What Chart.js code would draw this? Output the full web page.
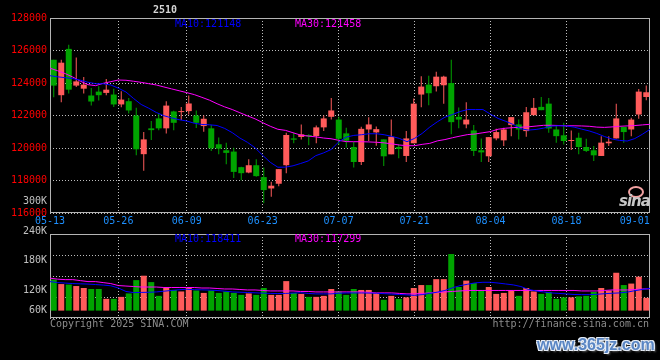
<!DOCTYPE html>
<html><head><meta charset="utf-8">
<script src="https://cdn.jsdelivr.net/npm/chart.js@4.4.1/dist/chart.umd.min.js"></script>
<style>
html,body{margin:0;padding:0;background:#000;width:660px;height:360px;overflow:hidden;}
#wrap{position:relative;width:660px;height:360px;background:#000;}
canvas{position:absolute;left:0;top:0;}
.t{position:absolute;font-family:'DejaVu Sans Mono',monospace;font-size:10px;line-height:12px;white-space:pre;}
</style></head><body>
<div id="wrap">
<canvas id="pc" width="660" height="360"></canvas>
<canvas id="vc" width="660" height="360"></canvas>
<div class="t" style="left:153px;top:4px;color:#d4d4d4;font-weight:bold;">2510</div>
<div class="t" id="pma10" style="left:175px;top:18px;color:#0000ff"></div>
<div class="t" id="pma30" style="left:295px;top:18px;color:#ff00ff"></div>
<div class="t" id="vma10" style="left:175px;top:233px;color:#0000ff"></div>
<div class="t" id="vma30" style="left:295px;top:233px;color:#ff00ff"></div>
<div class="t" style="left:50px;top:318px;color:#8c8c8c">Copyright 2025 SINA.COM</div>
<div class="t" style="right:11px;top:318px;color:#8c8c8c">http://finance.sina.com.cn</div>
<div style="position:absolute;left:628px;top:186px;width:12px;height:8px;border:2px solid #f2a2a2;border-radius:50%;"></div>
<div style="position:absolute;left:619px;top:194px;font:italic bold 15px 'DejaVu Sans',sans-serif;line-height:15px;color:#c8c8c8;letter-spacing:-1px">sina</div>
<div style="position:absolute;left:537px;top:337px;font:bold 16px 'Liberation Sans',sans-serif;line-height:16px;color:#5a86c4;text-shadow:-1px -1px 0 #e6edf7,1px -1px 0 #e6edf7,-1px 1px 0 #e6edf7,1px 1px 0 #e6edf7,2px 2px 2px #555;">www.365jz.com</div>
</div>
<script>
// ---------- DATA ----------
const DATES = ['05-13','05-14','05-15','05-16','05-19','05-20','05-21','05-22','05-23','05-26',
'05-27','05-28','05-29','05-30','06-03','06-04','06-05','06-06','06-09','06-10',
'06-11','06-12','06-13','06-16','06-17','06-18','06-19','06-20','06-23','06-24',
'06-25','06-26','06-27','06-30','07-01','07-02','07-03','07-04','07-07','07-08',
'07-09','07-10','07-11','07-14','07-15','07-16','07-17','07-18','07-21','07-22',
'07-23','07-24','07-25','07-28','07-29','07-30','07-31','08-01','08-04','08-05',
'08-06','08-07','08-08','08-11','08-12','08-13','08-14','08-15','08-18','08-19',
'08-20','08-21','08-22','08-25','08-26','08-27','08-28','08-29','09-01','09-02'];
const TICK_DATES = ['05-13','05-26','06-09','06-23','07-07','07-21','08-04','08-18','09-01'];

const OPEN = [125430,123250,126100,123840,123650,123230,123470,123390,123290,122680,
122880,122000,119620,121210,121820,121210,122250,122210,122270,122000,
121350,121210,120230,119860,119780,118820,118490,118940,118210,117510,
117800,118940,120590,120680,120800,120740,121270,121920,121750,120900,
120060,119140,121140,120960,120530,119610,120060,119510,120290,123290,
123900,123800,123860,124000,121920,121450,121080,119860,119490,120590,
120470,121410,121450,121040,122020,122530,122730,121140,120780,120430,
120630,120060,119860,119510,120290,120590,121290,121140,122060,123140];
const HIGH = [125430,125430,126350,125570,124370,123700,123800,124250,123650,123490,
123080,122470,120980,121660,122120,122880,122300,122530,123230,122310,
122000,121410,120640,120330,120020,118850,119310,119310,118800,117920,
118700,120940,120940,121450,120840,121390,122000,123080,121920,121250,
120370,121310,121900,121330,120530,121750,120220,121040,123040,124410,
124450,124690,124450,125430,122490,122820,121410,120590,120670,121180,
121240,121900,121750,122530,123080,123140,123080,121350,121550,121080,
120940,120570,120120,120730,120730,122730,121290,121860,123630,123840];
const LOW = [123120,122820,123350,123760,123350,122610,122920,123250,122530,122510,
122120,119550,118600,120490,121100,120900,121100,121720,122060,121230,
121000,119820,119620,119000,118150,118020,118450,118230,116600,117000,
117640,118450,120290,120530,120170,120290,121040,121760,120200,120020,
118800,118960,120430,120140,118900,119610,119370,119140,120290,122510,
122630,123470,122730,120840,121220,121220,119510,119140,119140,120470,
120120,120730,120530,120690,122020,122330,120940,120330,120220,119880,
119610,119750,119200,119510,120120,120590,120330,120730,121800,122940];
const CLOSE = [123840,125250,123590,124100,123900,122860,123250,123590,122680,122980,
122310,119920,120530,121100,121210,122610,121550,122270,122740,121550,
121800,119980,119960,119700,118530,118450,118940,118270,117410,117680,
118700,120800,120510,120840,120720,121270,121820,122310,120570,120450,
119140,121180,121450,121160,119490,120690,119940,120590,122730,123780,
123370,124390,124390,121590,121750,121750,119820,119730,120670,120980,
121140,121900,121140,122200,122470,122330,121200,120730,120430,120490,
120060,119820,119550,120330,120390,121820,120980,121750,123470,123430];

const MA10 = [124449,124381,124326,124271,124175,124046,123959,123952,123877,123681,
123448,123048,122681,122448,122187,121985,121852,121740,121660,121524,
121449,121428,121383,121204,120944,120612,120350,120013,119550,119121,
118817,118822,118905,119048,119203,119530,119695,119903,120367,120673,
120775,120816,120877,120877,120816,120714,120591,120387,120591,120897,
121285,121612,121897,122061,122244,122367,122367,122367,122080,121820,
121642,121448,121183,121101,121142,121224,121346,121367,121357,121285,
121163,121050,120897,120705,120550,120469,120428,120580,120846,121148];
const MA30 = [124910,124755,124579,124367,124111,123899,123836,123979,124081,124183,
124169,124108,124040,123959,123877,123755,123638,123524,123408,123285,
123118,122944,122724,122530,122367,122171,121979,121795,121560,121338,
121152,121085,120938,120795,120734,120685,120615,120570,120475,120393,
120387,120387,120373,120352,120315,120254,120183,120142,120142,120224,
120285,120438,120520,120632,120734,120826,120863,120938,121010,121155,
121218,121255,121277,121305,121350,121397,121397,121383,121367,121367,
121357,121336,121285,121269,121297,121336,121359,121381,121422,121458];

const VOLUME = [136000,127000,126000,123000,119000,117000,117000,97000,97000,101000,
108000,135000,144000,131000,103000,119000,115000,112000,119000,114000,
109000,114000,109000,112000,109000,105000,108000,105000,119000,105000,
105000,133000,109000,107000,101000,101000,103000,117000,112000,105000,
117000,115000,115000,109000,95000,103000,97000,100000,119000,125000,
125000,137000,137000,188000,121000,134000,129000,115000,121000,107000,
109000,114000,103000,119000,112000,107000,111000,97000,100000,100000,
102000,103000,111000,119000,114000,150000,125000,128000,142000,99000];
const VOL_MA10 = [132000,130000,129000,128000,127500,127000,126000,125000,123500,119000,
112000,109600,110000,110300,111000,112500,114000,115500,116400,115600,
115300,114800,113900,112600,111000,110400,109800,109200,108600,108000,
107700,108000,108700,109400,108000,107000,107000,107000,108300,108900,
108900,108900,108700,108300,107500,106600,105800,105000,104000,105500,
108000,110600,114000,119500,123800,126700,129500,130600,130600,129100,
127200,125300,122000,116000,113000,111000,109000,108000,107000,105800,
105500,105500,106200,107400,108300,109000,110600,113500,116000,118411];
const VOL_MA30 = [139000,137000,136000,136000,134000,132000,132000,130000,128000,124000,
123000,122000,121000,121000,121000,120000,120000,120000,120000,120000,
119000,119000,118000,117000,117000,116000,115000,115000,114000,113000,
113000,113000,113000,112000,112000,111000,111000,111000,111000,111000,
111000,111000,110000,109000,109000,109000,108000,107000,107000,108000,
109000,110000,111000,112000,113000,114000,114000,114000,114000,114000,
114000,114000,114000,114000,114000,114000,114000,114000,114000,114000,
113000,113000,113000,114000,115000,115000,115000,116000,117000,117299];
const VOL_LABELS = [300000,240000,180000,120000,60000];

// ---------- STYLE ----------
const UP = '#ff5b5b', DOWN = '#00a400';
const GRID = '#bdbdbd', FRAME = '#b4b4b4';
const FONT = {family: "'DejaVu Sans Mono', monospace", size: 10};
const VOL_MIN = 58000, VOL_MAX = 228800, VOL_BAR_BASE = 73000;

document.getElementById('pma10').textContent = 'MA10:' + MA10[MA10.length-1];
document.getElementById('pma30').textContent = 'MA30:' + MA30[MA30.length-1];
document.getElementById('vma10').textContent = 'MA10:' + VOL_MA10[VOL_MA10.length-1];
document.getElementById('vma30').textContent = 'MA30:' + VOL_MA30[VOL_MA30.length-1];

const N = DATES.length;
const idx = DATES.map((_, i) => i);
const colors = idx.map(i => CLOSE[i] >= OPEN[i] ? UP : DOWN);

const frame = {id: 'frame', beforeDatasetsDraw(chart) {
  const a = chart.chartArea, c = chart.ctx;
  c.save(); c.strokeStyle = FRAME; c.lineWidth = 1;
  c.strokeRect(Math.round(a.left)+0.5, Math.round(a.top)+0.5, Math.round(a.right-a.left)-1, Math.round(a.bottom-a.top)-1);
  c.restore();
}};

function candleAxis() {
  return {type: 'linear', display: false, min: -0.5, max: N - 0.5, bounds: 'data', offset: false, grid: {offset: false}};
}
function dateAxis(showLabels) {
  return {
    type: 'linear', position: 'bottom', min: 0, max: N - 1, bounds: 'data', offset: false,
    afterBuildTicks(s) {
      s.ticks = TICK_DATES.map(d => ({value: Math.min(DATES.indexOf(d), s.max - 2)}));
    },
    ticks: {display: showLabels, autoSkip: false, maxRotation: 0, minRotation: 0, padding: 2,
            color: '#1e90ff', font: FONT, callback: (v, i) => TICK_DATES[i]},
    grid: {offset: false, drawTicks: false, lineWidth: 1,
           color: ctx => (ctx.index === 0 || ctx.index === TICK_DATES.length - 1) ? 'rgba(0,0,0,0)' : GRID},
    border: {display: false, dash: [1, 2]},
    afterFit(s) { s.height = 20; s.paddingLeft = 0; s.paddingRight = 0; }
  };
}
function lineDs(arr, color) {
  return {type: 'line', xAxisID: 'xl', yAxisID: 'y', data: arr.map((v, j) => ({x: j, y: v})),
          borderColor: color, borderWidth: 1, pointRadius: 0, tension: 0, order: 0};
}

new Chart(document.getElementById('pc'), {
  type: 'bar',
  data: {datasets: [
    lineDs(MA10, '#0000ff'),
    lineDs(MA30, '#ff00ff'),
    {type: 'bar', xAxisID: 'x', yAxisID: 'y', data: idx.map(i => ({x: i, y: [OPEN[i], CLOSE[i]]})),
     backgroundColor: colors, barThickness: 6, grouped: false, minBarLength: 1, inflateAmount: 0, order: 1},
    {type: 'bar', xAxisID: 'x', yAxisID: 'y', data: idx.map(i => ({x: i, y: [LOW[i], HIGH[i]]})),
     backgroundColor: colors, barThickness: 1, grouped: false, minBarLength: 1, inflateAmount: 0, order: 2}
  ]},
  options: {
    responsive: false, devicePixelRatio: 1, animation: false, events: [],
    layout: {padding: {left: 0, right: 10, top: 18, bottom: 127}},
    plugins: {legend: {display: false}, tooltip: {enabled: false}},
    scales: {
      x: candleAxis(),
      xl: dateAxis(true),
      y: {type: 'linear', position: 'left', min: 116000, max: 128000, bounds: 'data', beginAtZero: false,
          ticks: {stepSize: 2000, color: '#ff0000', font: FONT, padding: 3, callback: v => String(v)},
          grid: {drawTicks: false, color: GRID},
          border: {display: false, dash: [1, 2]},
          afterFit(s) { s.width = 50; }}
    }
  },
  plugins: [frame]
});

const volLabels = {id: 'volLabels', afterDraw(chart) {
  const ys = chart.scales.y, c = chart.ctx;
  const baseY = ys.getPixelForValue(VOL_BAR_BASE);
  c.save();
  c.font = "10px 'DejaVu Sans Mono', monospace";
  c.fillStyle = '#c0c0c0'; c.textAlign = 'right'; c.textBaseline = 'middle';
  VOL_LABELS.forEach(v => {
    const y = Math.min(ys.getPixelForValue(v) + 2.5, baseY);
    c.fillText(Math.round(v / 1000) + 'K', chart.chartArea.left - 3, y);
  });
  c.restore();
}};

new Chart(document.getElementById('vc'), {
  type: 'bar',
  data: {datasets: [
    lineDs(VOL_MA10, '#0000ff'),
    lineDs(VOL_MA30, '#ff00ff'),
    {type: 'bar', xAxisID: 'x', yAxisID: 'y', data: idx.map(i => ({x: i, y: [VOL_BAR_BASE, VOLUME[i]]})),
     backgroundColor: colors, barThickness: 6, grouped: false, inflateAmount: 0, order: 1}
  ]},
  options: {
    responsive: false, devicePixelRatio: 1, animation: false, events: [],
    layout: {padding: {left: 0, right: 10, top: 234, bottom: 22}},
    plugins: {legend: {display: false}, tooltip: {enabled: false}},
    scales: {
      x: candleAxis(),
      xl: dateAxis(false),
      y: {type: 'linear', position: 'left', min: VOL_MIN, max: VOL_MAX, bounds: 'data', beginAtZero: false,
          afterBuildTicks(s) { s.ticks = [0, 1, 2, 3, 4].map(k => ({value: s.min + (s.max - s.min) * k / 4})); },
          ticks: {display: false},
          grid: {drawTicks: false, color: GRID},
          border: {display: false, dash: [1, 2]},
          afterFit(s) { s.width = 50; }}
    }
  },
  plugins: [frame, volLabels]
});
</script>
</body></html>
